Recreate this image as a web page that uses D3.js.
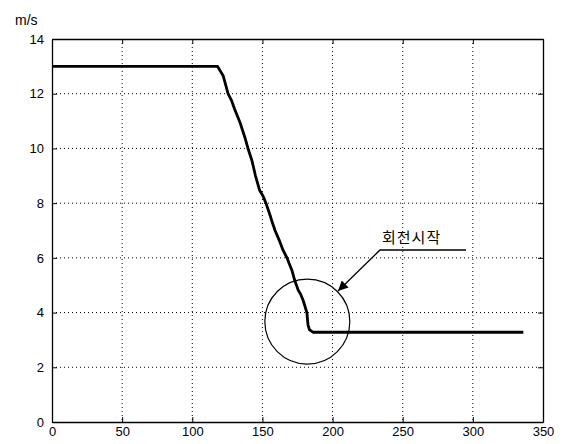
<!DOCTYPE html>
<html><head><meta charset="utf-8">
<script src="https://cdn.jsdelivr.net/npm/d3@7"></script>
<style>body{margin:0;background:#fff}svg{display:block}</style>
</head><body>
<script>
const xTicks = [0,50,100,150,200,250,300,350];
const yTicks = [0,2,4,6,8,10,12,14];
const timeVals  = [0,118,122,125.5,128,130,134,137.5,140,142.5,145,148,150.5,152.5,155.5,157,159,162,164.7,167.5,169,171,173,175.5,177,179,181.7,182.5,183.5,186,336];
const speedVals = [13,13,12.66,12.0,11.75,11.46,10.95,10.4,9.95,9.56,9.01,8.47,8.25,8.0,7.55,7.3,7.0,6.64,6.28,6.0,5.8,5.55,5.18,4.82,4.7,4.45,4.0,3.54,3.38,3.28,3.28];
const unitLabel = "m/s";
const annotation = "회전시작";
const circleCenter = [182, 3.67];

const W=563,H=444, L=52, R=543, T=39, B=422;
const svg=d3.select("body").append("svg").attr("width",W).attr("height",H);
const x=d3.scaleLinear().domain([0,350]).range([L,R]);
const y=d3.scaleLinear().domain([0,14]).range([B,T]);
const font="Liberation Sans, Arial, sans-serif";

// grid
const g=svg.append("g");
g.selectAll(".gx").data(xTicks.slice(1,-1)).enter().append("line")
 .attr("x1",d=>x(d)).attr("x2",d=>x(d)).attr("y1",T).attr("y2",B)
 .attr("stroke","#000").attr("stroke-width",1).attr("stroke-dasharray","1,3");
g.selectAll(".gy").data(yTicks.slice(1,-1)).enter().append("line")
 .attr("y1",d=>y(d)).attr("y2",d=>y(d)).attr("x1",L).attr("x2",R)
 .attr("stroke","#000").attr("stroke-width",1).attr("stroke-dasharray","1,3");

// axes (inside ticks)
const ax=svg.append("g").attr("transform",`translate(0,${B})`)
 .call(d3.axisBottom(x).tickValues(xTicks).tickSizeInner(-5).tickSizeOuter(0).tickPadding(5));
const ay=svg.append("g").attr("transform",`translate(${L},0)`)
 .call(d3.axisLeft(y).tickValues(yTicks).tickSizeInner(-5).tickSizeOuter(0).tickPadding(8));
svg.append("g").attr("transform",`translate(0,${T})`)
 .call(d3.axisTop(x).tickValues(xTicks).tickSizeInner(-5).tickSizeOuter(0).tickFormat(""));
svg.append("g").attr("transform",`translate(${R},0)`)
 .call(d3.axisRight(y).tickValues(yTicks).tickSizeInner(-5).tickSizeOuter(0).tickFormat(""));
svg.selectAll(".domain").attr("stroke","#000").attr("stroke-width",1.3);
svg.selectAll(".tick line").attr("stroke","#000");
svg.selectAll(".tick text").attr("font-family",font).attr("font-size",13).attr("fill","#000");
ax.selectAll(".tick text").attr("dy","0.71em");

svg.append("text").attr("x",15).attr("y",25).attr("font-family",font).attr("font-size",14).text(unitLabel);

// data line
const pts=timeVals.map((t,i)=>[t,speedVals[i]]);
svg.append("path").datum(pts)
 .attr("d",d3.line().x(d=>x(d[0])).y(d=>y(d[1])))
 .attr("fill","none").attr("stroke","#000").attr("stroke-width",2.8).attr("stroke-linejoin","round");

// circle
svg.append("circle").attr("cx",x(circleCenter[0])).attr("cy",y(circleCenter[1])).attr("r",42.5)
 .attr("fill","none").attr("stroke","#000").attr("stroke-width",1.2);

// annotation
svg.append("defs").append("marker").attr("id","ah").attr("viewBox","0 0 10 10").attr("refX",10).attr("refY",5)
 .attr("markerWidth",14).attr("markerHeight",10).attr("markerUnits","userSpaceOnUse").attr("orient","auto")
 .append("path").attr("d","M0,0 L10,5 L0,10 z").attr("fill","#000");
svg.append("path").attr("d","M466,250 L380,250 L338,291").attr("fill","none").attr("stroke","#000")
 .attr("stroke-width",1.3).attr("marker-end","url(#ah)");
svg.append("text").attr("x",382).attr("y",243).attr("font-family","Noto Sans CJK KR").attr("font-size",15)
 .attr("letter-spacing",1).text(annotation);
</script>
</body></html>
